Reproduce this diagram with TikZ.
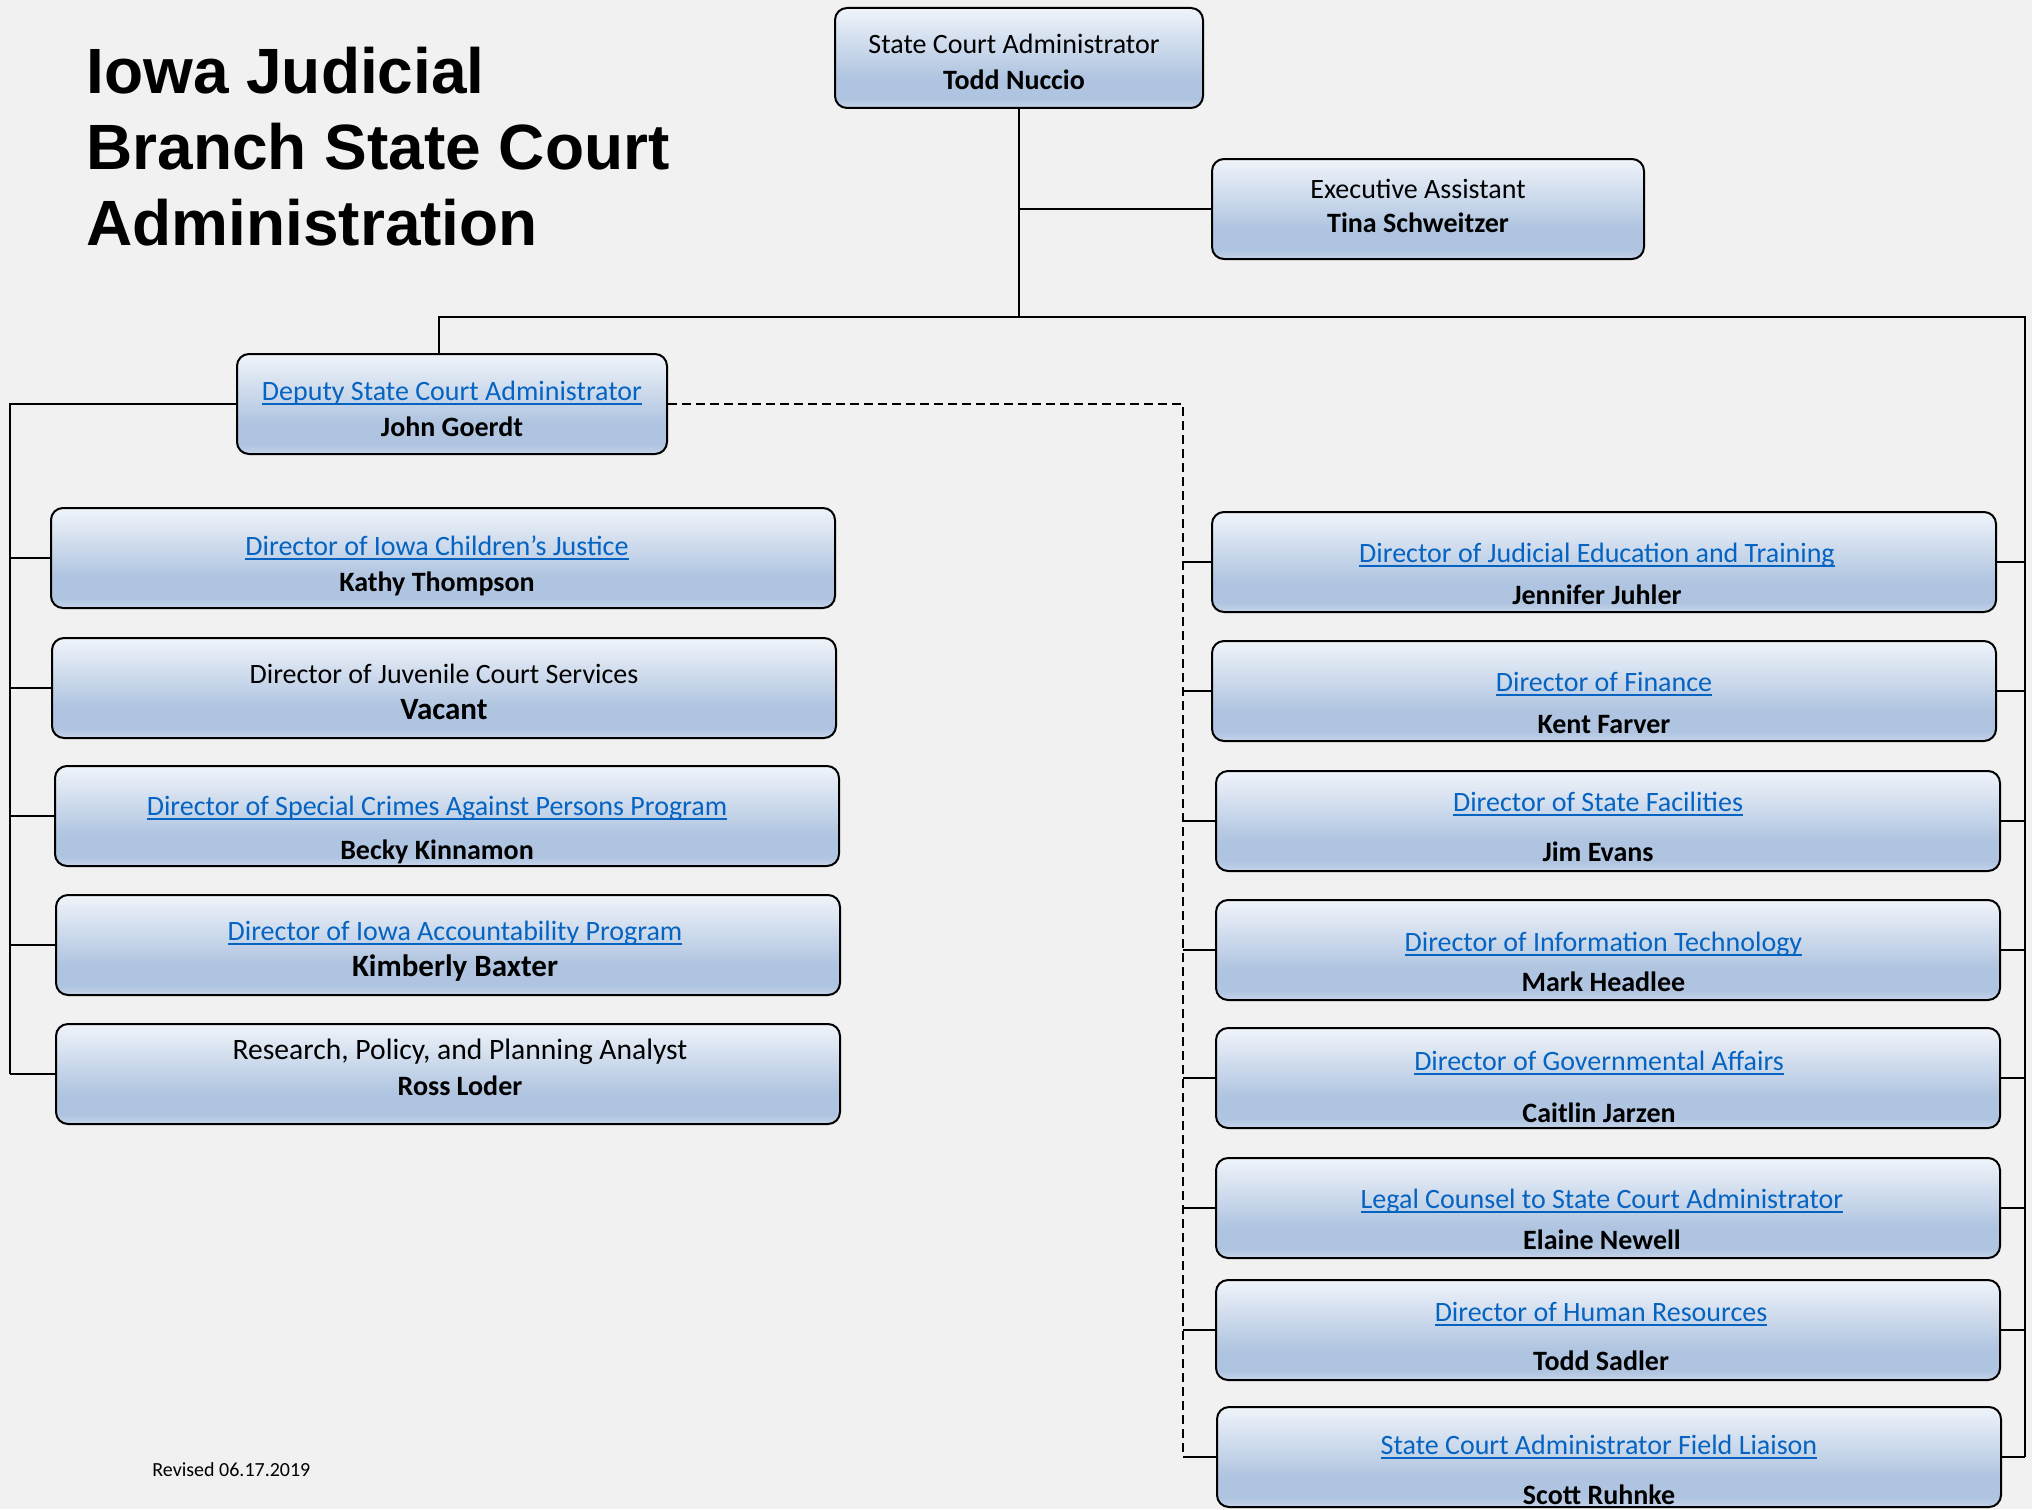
\documentclass[tikz,border=0pt]{standalone}
\usepackage{fontspec}
\setmainfont{Carlito}
\newfontfamily\titlefont{Liberation Sans}
\usetikzlibrary{calc}

\definecolor{bgcol}{HTML}{F1F1F1}
\definecolor{linkblue}{HTML}{0563C1}
\definecolor{boxtop}{HTML}{F0F4FA}
\definecolor{boxlow}{HTML}{AFC4E0}
\definecolor{boxbot}{HTML}{C4D3E9}
\pgfdeclareverticalshading{boxshade}{100bp}{color(0bp)=(boxbot); color(25bp)=(boxbot); color(30bp)=(boxlow); color(40bp)=(boxlow); color(75bp)=(boxtop); color(100bp)=(boxtop)}

% underlined link text, line sits just under the baseline
\newcommand{\lnk}[1]{\textcolor{linkblue}{\sbox0{#1}\rlap{\rule[-2.4pt]{\wd0}{1pt}}\usebox0}}
\newcommand{\bigname}[1]{{\fontsize{15.5}{17}\selectfont\textbf{#1}}}
% two-line box text: [gap]{role}{name}, moved by \txtdrop and \txtshift
\newcommand{\txtdrop}{-5pt}
\newcommand{\txtshift}{0pt}
\newcommand{\duo}[3][1pt]{\makebox[0pt]{\hspace*{\txtshift}\hspace*{\txtshift}%
  \raisebox{\dimexpr\txtdrop-2pt\relax}[0pt][0pt]{\begin{tabular}{@{}c@{}}#2\\[#1]#3\end{tabular}}}}

\tikzset{
  orgbox/.style={draw, line width=1pt, rounded corners=6pt, shade, shading=boxshade,
    inner sep=0pt, minimum height=50pt, font=\fontsize{14}{17}\selectfont},
  lbox/.style={orgbox, minimum width=392pt},
  rbox/.style={orgbox, minimum width=392pt},
  textdrop/.code={\renewcommand{\txtdrop}{#1}},
  textshift/.code={\renewcommand{\txtshift}{#1}},
  conn/.style={line width=1.1pt},
  dconn/.style={conn, dash pattern=on 4.5pt off 2.5pt},
}

\begin{document}
\begin{tikzpicture}[x=0.5pt,y=-0.5pt]
\fill[bgcol] (0,0) rectangle (2032,1509);
\useasboundingbox (0,0) rectangle (2032,1509);

% title
\node[anchor=base west, align=left, inner sep=0pt,
  font=\titlefont\bfseries\fontsize{32}{38}\selectfont] (title) at (86,245)
  {Iowa Judicial\\Branch State Court\\Administration};
\node[anchor=base west, inner sep=0pt, font=\fontsize{10}{12}\selectfont] (rev) at (152,1476) {Revised 06.17.2019};

% top level
\node[orgbox, minimum width=184pt, textdrop=-5pt, textshift=-2.5pt] (sca) at (1019,58) {\duo{State Court Administrator}{\textbf{Todd Nuccio}}};
\node[orgbox, minimum width=216pt, textdrop=-1.5pt, textshift=-5pt] (exa) at (1428,209) {\duo[0pt]{Executive Assistant}{\textbf{Tina Schweitzer}}};
\node[orgbox, minimum width=215pt, textdrop=-5.5pt] (dep) at (452,404) {\duo{\lnk{Deputy State Court Administrator}}{\textbf{John Goerdt}}};

% left column
\node[lbox, textdrop=-5.8pt, textshift=-3pt] (ich) at (443,558) {\duo{\lnk{Director of Iowa Children’s Justice}}{\textbf{Kathy Thompson}}};
\node[lbox, textdrop=-5pt] (jcs) at (444,688) {\duo{Director of Juvenile Court Services}{\bigname{Vacant}}};
\node[lbox, textdrop=-9pt, textshift=-5pt] (scap) at (447,816) {\duo[5pt]{\lnk{Director of Special Crimes Against Persons Program}}{\textbf{Becky Kinnamon}}};
\node[lbox, textdrop=-5pt, textshift=3.5pt] (iap) at (448,945) {\duo{\lnk{Director of Iowa Accountability Program}}{\bigname{Kimberly Baxter}}};
\node[lbox, textdrop=0pt, textshift=6pt] (rpp) at (448,1074) {\duo{{\fontsize{14.8}{17}\selectfont Research, Policy, and Planning Analyst}}{\textbf{Ross Loder}}};

% right column
\node[rbox, textdrop=-8.7pt, textshift=-3.5pt] (jet) at (1604,562) {\duo[4pt]{\lnk{Director of Judicial Education and Training}}{\textbf{Jennifer Juhler}}};
\node[rbox, textdrop=-9pt] (fin) at (1604,691) {\duo[4pt]{\lnk{Director of Finance}}{\textbf{Kent Farver}}};
\node[rbox, textdrop=-6pt, textshift=-5pt] (fac) at (1608,821) {\duo[8pt]{\lnk{Director of State Facilities}}{\textbf{Jim Evans}}};
\node[rbox, textdrop=-9pt, textshift=-2.3pt] (ith) at (1608,950) {\duo[3pt]{\lnk{Director of Information Technology}}{\textbf{Mark Headlee}}};
\node[rbox, textdrop=-7.4pt, textshift=-4.5pt] (gov) at (1608,1078) {\duo[9pt]{\lnk{Director of Governmental Affairs}}{\textbf{Caitlin Jarzen}}};
\node[rbox, textdrop=-8.7pt, textshift=-3pt] (lgl) at (1608,1208) {\duo[3.5pt]{\lnk{Legal Counsel to State Court Administrator}}{\textbf{Elaine Newell}}};
\node[rbox, textdrop=-6pt, textshift=-3.5pt] (hr) at (1608,1330) {\duo[7.5pt]{\lnk{Director of Human Resources}}{\textbf{Todd Sadler}}};
\node[rbox, textdrop=-9.3pt, textshift=-5pt] (fld) at (1609,1457) {\duo[8pt]{\lnk{State Court Administrator Field Liaison}}{\textbf{Scott Ruhnke}}};

% buses
\coordinate (hub) at (1019,317);
\coordinate (rbus) at (2025,317);
\coordinate (lbus) at (10,404);
\coordinate (dbus) at (1183,404);

\draw[conn] (sca.south) -- (hub);
\draw[conn] (exa.west) -- (exa.west -| hub);
\draw[conn] ($(dep.north)+(-13,0)$) |- (rbus) -- (rbus |- fld.east);
\draw[conn] (dep.west) -- (lbus) -- (lbus |- rpp.west);
\draw[dconn] (dep.east) -- (dbus) -- (dbus |- fld.west);
\foreach \b in {ich,jcs,scap,iap,rpp}
  \draw[conn] (\b.west) -- (\b.west -| lbus);
\foreach \b in {jet,fin,fac,ith,gov,lgl,hr,fld}{
  \draw[conn] (\b.east) -- (\b.east -| rbus);
  \draw[conn] (\b.west) -- (\b.west -| dbus);
}
\end{tikzpicture}
\end{document}
